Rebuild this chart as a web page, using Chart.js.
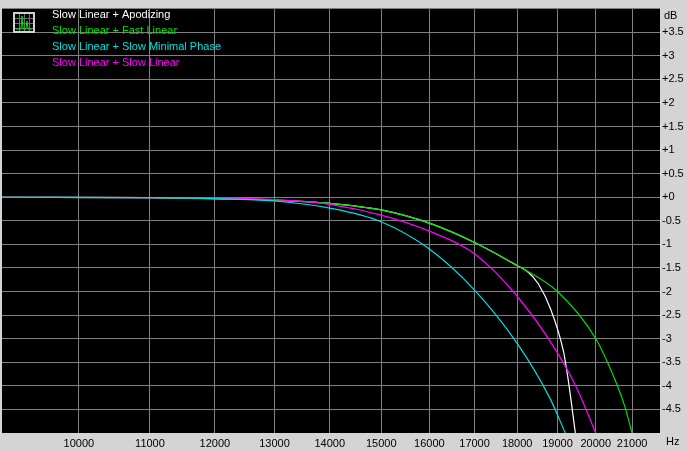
<!DOCTYPE html>
<html><head><meta charset="utf-8">
<script src="https://cdn.jsdelivr.net/npm/chart.js@4/dist/chart.umd.min.js"></script>
<style>
html,body{margin:0;padding:0;background:#d4d4d4;}
#wrap{width:687px;height:451px;}
</style></head>
<body><div id="wrap"><canvas id="c"></canvas></div>
<script>
const freqTicks = [10000, 11000, 12000, 13000, 14000, 15000, 16000, 17000, 18000, 19000, 20000, 21000];
const dbTicks = [-4.5, -4, -3.5, -3, -2.5, -2, -1.5, -1, -0.5, 0, 0.5, 1, 1.5, 2, 2.5, 3, 3.5];

const seriesNames = ['Slow Linear + Apodizing', 'Slow Linear + Fast Linear', 'Slow Linear + Slow Minimal Phase', 'Slow Linear + Slow Linear'];
const seriesColors = ['#ffffff', '#00e000', '#00e0e0', '#ff00ff'];

const fastFreq = [9000, 11000, 12000, 13000, 14000, 15000, 16000, 17000, 18000, 19000, 20000, 20500, 20800, 21000];
const fastDb   = [0, -0.01, -0.03, -0.06, -0.13, -0.27, -0.55, -0.96, -1.45, -2.0, -3.0, -3.83, -4.45, -5.0];

const apodFreq = [9000, 11000, 12000, 13000, 14000, 15000, 16000, 17000, 18000, 18270, 18520, 18820, 19150, 19280, 19460];
const apodDb   = [0, -0.01, -0.03, -0.06, -0.13, -0.27, -0.55, -0.96, -1.45, -1.59, -1.84, -2.36, -3.26, -3.9, -5.0];

const minFreq = [9000, 11000, 12000, 13000, 14000, 15000, 16000, 17000, 18000, 18800, 19200];
const minDb   = [0, -0.01, -0.03, -0.08, -0.23, -0.52, -1.1, -1.97, -3.1, -4.25, -5.0];

const slowFreq = [9000, 11000, 12000, 13000, 14000, 15000, 16000, 17000, 18000, 19000, 19500, 20000];
const slowDb   = [0, -0.01, -0.02, -0.05, -0.15, -0.38, -0.72, -1.2, -2.1, -3.3, -4.05, -5.0];

const pts = (f, d) => f.map((x, i) => ({x: x, y: d[i]}));
const seriesData = [pts(apodFreq, apodDb), pts(fastFreq, fastDb), pts(minFreq, minDb), pts(slowFreq, slowDb)];
// draw order: cyan, magenta, green, white on top
const drawOrder = [2, 3, 1, 0];

const overlay = {
  id: 'overlay',
  afterDraw(chart) {
    const ctx = chart.ctx, a = chart.chartArea;
    ctx.save();
    ctx.font = '11px "Liberation Sans", Arial, sans-serif';
    ctx.textBaseline = 'middle';
    seriesNames.forEach((n, i) => {
      ctx.fillStyle = seriesColors[i];
      ctx.fillText(n, 52, 15 + i * 16);
    });
    // little icon
    ctx.fillStyle = '#000';
    ctx.fillRect(13, 12, 22, 21);
    ctx.strokeStyle = '#d0d0d0'; ctx.lineWidth = 2;
    ctx.strokeRect(14, 13, 20, 19);
    ctx.lineWidth = 1;
    ctx.strokeStyle = '#707070';
    for (let k = 1; k < 4; k++) {
      ctx.beginPath(); ctx.moveTo(14 + k * 5 + 0.5, 14); ctx.lineTo(14 + k * 5 + 0.5, 31); ctx.stroke();
      ctx.beginPath(); ctx.moveTo(15, 13 + k * 5 + 0.5); ctx.lineTo(33, 13 + k * 5 + 0.5); ctx.stroke();
    }
    ctx.strokeStyle = '#00e000';
    ctx.beginPath(); ctx.moveTo(16, 29); ctx.lineTo(21, 29); ctx.lineTo(22, 16); ctx.lineTo(23, 29); ctx.lineTo(26, 29); ctx.lineTo(27, 21); ctx.lineTo(28, 29); ctx.lineTo(32, 29); ctx.stroke();
    ctx.fillStyle = '#000';
    ctx.fillText('Hz', a.right + 6, a.bottom + 9);
    ctx.fillText('dB', a.right + 4, a.top + 7);
    ctx.restore();
  }
};

new Chart(document.getElementById('c'), {
  type: 'scatter',
  data: {
    datasets: drawOrder.map(i => ({
      label: seriesNames[i],
      data: seriesData[i],
      showLine: true,
      borderColor: seriesColors[i],
      borderWidth: 1.2,
      pointRadius: 0,
      cubicInterpolationMode: 'monotone'
    }))
  },
  options: {
    responsive: true,
    maintainAspectRatio: false,
    animation: false,
    layout: {padding: {left: 2, top: 2, right: 0, bottom: 0}},
    plugins: {legend: {display: false}, tooltip: {enabled: false}},
    scales: {
      x: {
        type: 'logarithmic', min: 9020, max: 21800,
        afterBuildTicks: s => { s.ticks = freqTicks.map(v => ({value: v})); },
        afterFit: s => { s.height = 18; },
        grid: {color: '#808080', drawTicks: false},
        border: {display: false},
        ticks: {color: '#000', padding: 4, maxRotation: 0, autoSkip: false,
          font: {size: 11, family: '"Liberation Sans", Arial'},
          callback: v => String(v)}
      },
      y: {
        position: 'right', min: -5, max: 4,
        afterBuildTicks: s => { s.ticks = dbTicks.map(v => ({value: v})); },
        afterFit: s => { s.width = 27; },
        grid: {color: '#808080', drawTicks: false},
        border: {display: false},
        ticks: {color: '#000', padding: 2, autoSkip: false,
          font: {size: 11, family: '"Liberation Sans", Arial'},
          callback: v => (v >= 0 ? '+' + v : String(v))}
      }
    }
  },
  plugins: [{
    id: 'bg',
    beforeDraw(chart) {
      const a = chart.chartArea, ctx = chart.ctx;
      ctx.save(); ctx.fillStyle = '#000';
      ctx.fillRect(a.left, a.top, a.right - a.left, a.bottom - a.top);
      ctx.restore();
    }
  }, overlay]
});
</script></body></html>
